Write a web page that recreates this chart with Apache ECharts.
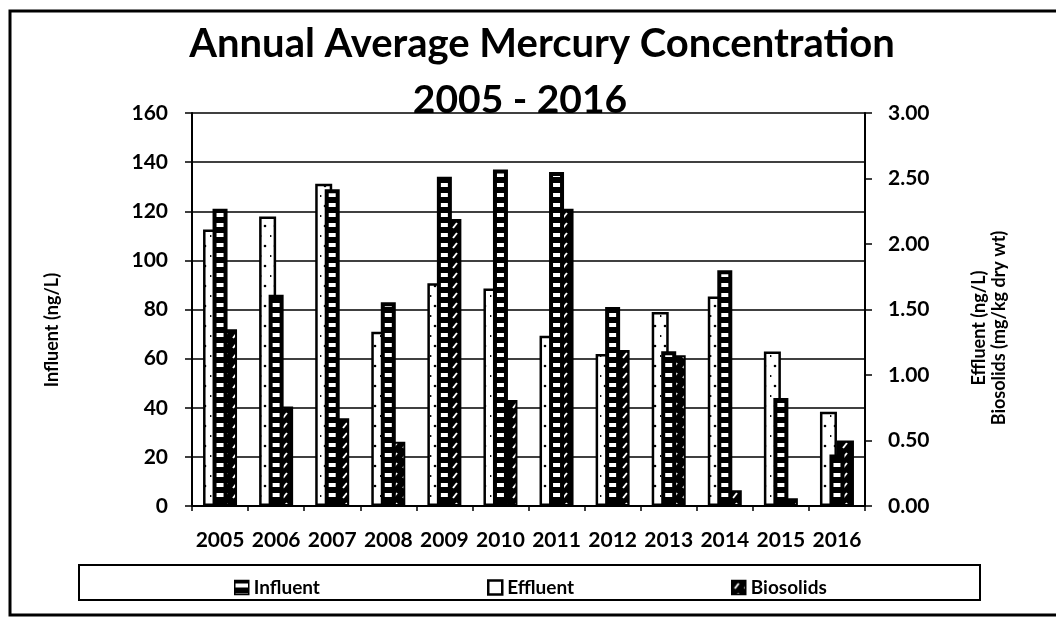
<!DOCTYPE html>
<html><head><meta charset="utf-8">
<script src="https://cdn.jsdelivr.net/npm/echarts@6/dist/echarts.min.js"></script>
<style>html,body{margin:0;padding:0;background:#fff}#c{width:1056px;height:619px}</style>
</head><body><div id="c"></div>
<script>
const years = ['2005','2006','2007','2008','2009','2010','2011','2012','2013','2014','2015','2016'];
const influent = [121, 86, 129, 83, 134, 137, 136, 81, 63, 96, 44, 21];
const effluent = [2.11, 2.21, 2.46, 1.33, 1.70, 1.66, 1.30, 1.16, 1.48, 1.60, 1.18, 0.72];
const biosolids = [1.35, 0.76, 0.67, 0.49, 2.19, 0.81, 2.27, 1.19, 1.15, 0.12, 0.06, 0.50];

function tile(w, h, draw) {
  const c = document.createElement('canvas');
  c.width = w; c.height = h;
  draw(c.getContext('2d'));
  return c;
}
const stripeTile = tile(4, 10, g => {
  g.fillStyle = '#000'; g.fillRect(0, 0, 4, 10);
  g.fillStyle = '#fff'; g.fillRect(0, 3, 4, 4);
});
const dotTile = tile(10, 20, g => {
  g.fillStyle = '#fff'; g.fillRect(0, 0, 10, 20);
  g.fillStyle = '#000';
  g.beginPath(); g.arc(5, 6, 1.3, 0, Math.PI * 2); g.fill();
  g.beginPath(); g.arc(0.5, 16, 1.1, 0, Math.PI * 2); g.fill();
});
const hatchTile = tile(10, 10, g => {
  g.fillStyle = '#000'; g.fillRect(0, 0, 10, 10);
  g.strokeStyle = '#fff'; g.lineWidth = 2;
  g.beginPath(); g.moveTo(3, 8); g.lineTo(7, 3); g.stroke();
});
const pat = t => ({ image: t, repeat: 'repeat' });

const FONT = 'Lato, "Open Sans", sans-serif';
const lab = { fontFamily: FONT, fontWeight: 'bold', color: '#000' };

const chart = echarts.init(document.getElementById('c'), null, { renderer: 'canvas' });
chart.setOption({
  animation: false,
  backgroundColor: '#fff',
  grid: { left: 192, right: 191, top: 113, bottom: 113, containLabel: false },
  legend: [
    { data: [{ name: 'Influent', icon: 'rect', itemStyle: { color: pat(stripeTile), borderColor: '#000', borderWidth: 1.5 } }],
      left: 229, top: 573, itemWidth: 14, itemHeight: 14, itemGap: 5,
      textStyle: Object.assign({ fontSize: 19 }, lab) },
    { data: [{ name: 'Effluent', icon: 'rect', itemStyle: { color: '#fff', borderColor: '#000', borderWidth: 2.5 } }],
      left: 482, top: 573, itemWidth: 14, itemHeight: 14, itemGap: 5,
      textStyle: Object.assign({ fontSize: 19 }, lab) },
    { data: [{ name: 'Biosolids', icon: 'rect', itemStyle: { color: pat(hatchTile), borderColor: '#000', borderWidth: 1.5 } }],
      left: 726, top: 573, itemWidth: 14, itemHeight: 14, itemGap: 5,
      textStyle: Object.assign({ fontSize: 19 }, lab) }
  ],
  xAxis: [
    { type: 'category', data: years, gridIndex: 0,
      axisLine: { show: true, lineStyle: { color: '#000', width: 2 } },
      axisTick: { show: true, length: 5, lineStyle: { color: '#000', width: 1.5 } },
      axisLabel: Object.assign({ fontSize: 21, margin: 24, interval: 0 }, lab),
      splitLine: { show: false } },
    { type: 'category', data: years, gridIndex: 0, show: false, position: 'top' }
  ],
  yAxis: [
    { type: 'value', min: 0, max: 160, interval: 20, position: 'left',
      axisLine: { show: true, lineStyle: { color: '#000', width: 2 } },
      axisTick: { show: true, length: 7, lineStyle: { color: '#000', width: 1.5 } },
      axisLabel: Object.assign({ fontSize: 21, margin: 24 }, lab),
      splitLine: { show: true, lineStyle: { color: '#000', width: 1.5 } } },
    { type: 'value', min: 0, max: 3, interval: 0.5, position: 'right',
      axisLine: { show: true, lineStyle: { color: '#000', width: 2 } },
      axisTick: { show: true, length: 7, lineStyle: { color: '#000', width: 1.5 } },
      axisLabel: Object.assign({ fontSize: 21, margin: 23, formatter: v => v.toFixed(2) }, lab),
      splitLine: { show: false } }
  ],
  series: [
    { name: 'Effluent', type: 'bar', xAxisIndex: 0, yAxisIndex: 1, data: effluent,
      barWidth: 17, barGap: '0%', z: 2,
      itemStyle: { color: pat(dotTile), borderColor: '#000', borderWidth: 2.5 } },
    { name: 'Biosolids', type: 'bar', xAxisIndex: 0, yAxisIndex: 1, data: biosolids,
      barWidth: 17, barGap: '0%', z: 2,
      itemStyle: { color: pat(hatchTile), borderColor: '#000', borderWidth: 2 } },
    { name: 'Influent', type: 'bar', xAxisIndex: 1, yAxisIndex: 0, data: influent,
      barWidth: 15, z: 3,
      itemStyle: { color: pat(stripeTile), borderColor: '#000', borderWidth: 4 } }
  ],
  graphic: [
    { type: 'rect', z: 0, silent: true, shape: { x: 10, y: 11, width: 1060, height: 604 },
      style: { fill: null, stroke: '#000', lineWidth: 3 } },
    { type: 'rect', z: 0, silent: true, shape: { x: 79, y: 565, width: 901, height: 35 },
      style: { fill: null, stroke: '#000', lineWidth: 2 } },
    { type: 'text', z: 10, x: 542, y: 44, silent: true,
      style: { text: 'Annual Average Mercury Concentration', font: 'bold 40px ' + FONT, fill: '#000', align: 'center', verticalAlign: 'middle' } },
    { type: 'text', z: 10, x: 520, y: 100, silent: true,
      style: { text: '2005 - 2016', font: 'bold 39px ' + FONT, fill: '#000', align: 'center', verticalAlign: 'middle' } },
    { type: 'text', z: 10, x: 52, y: 330, rotation: Math.PI / 2, silent: true,
      style: { text: 'Influent (ng/L)', font: 'bold 18px ' + FONT, fill: '#000', align: 'center', verticalAlign: 'middle' } },
    { type: 'text', z: 10, x: 989, y: 328, rotation: Math.PI / 2, silent: true,
      style: { text: 'Effluent (ng/L)\nBiosolids (mg/kg dry wt)', font: 'bold 18px ' + FONT, fill: '#000', align: 'center', verticalAlign: 'middle', lineHeight: 20 } }
  ]
});
</script>
</body></html>
